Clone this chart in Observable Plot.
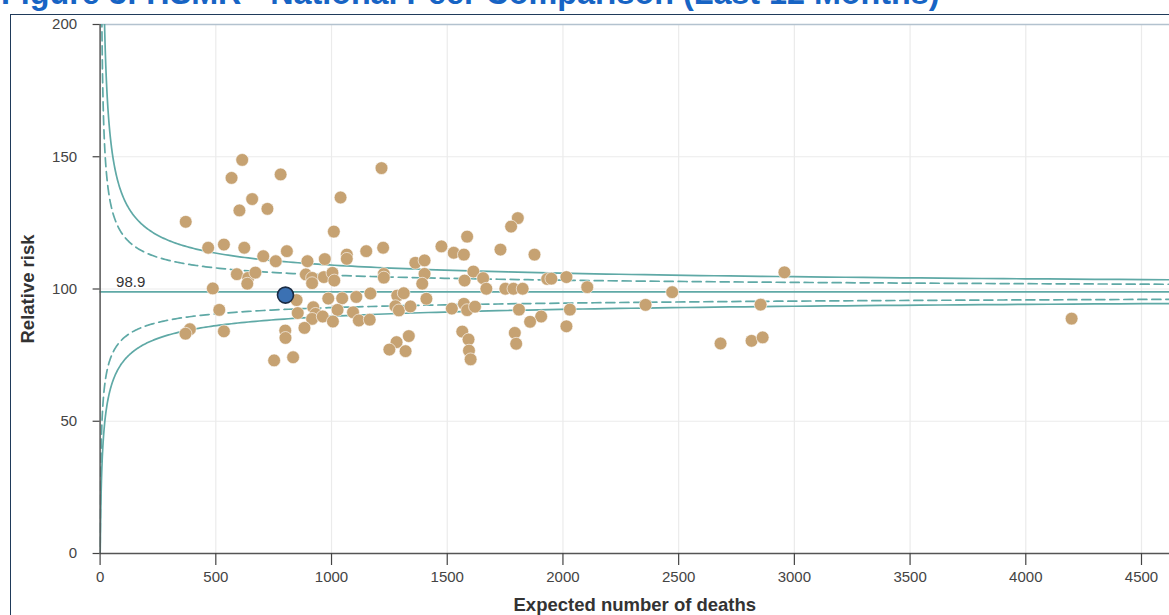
<!DOCTYPE html>
<html>
<head>
<meta charset="utf-8">
<script src="https://cdn.jsdelivr.net/npm/d3@7"></script>
<script src="https://cdn.jsdelivr.net/npm/@observablehq/plot@0.6"></script>
<style>
  html, body { margin: 0; padding: 0; background: #fff; }
  #wrap { position: relative; width: 1169px; height: 615px; overflow: hidden; font-family: "Liberation Sans", Arial, sans-serif; }
  #title { position: absolute; left: 1px; top: -23px; font-size: 32.3px; font-weight: bold; color: #1764c4; white-space: nowrap; line-height: 32px; }
  #frame { position: absolute; left: 10px; top: 14px; width: 1300px; height: 800px; border: 1.5px solid #1f3a5a; box-sizing: border-box; }
  #chart { position: absolute; left: 0; top: 0; }
</style>
</head>
<body>
<div id="wrap">
  <div id="title">Figure 3: HSMR - National Peer Comparison (Last 12 Months)</div>
  <div id="frame"></div>
  <div id="chart"></div>
</div>
<script>
// ---- data ----
const titleText = "Figure 3: HSMR - National Peer Comparison (Last 12 Months)";
const xLabel = "Expected number of deaths";
const yLabel = "Relative risk";
const xTicks = [0, 500, 1000, 1500, 2000, 2500, 3000, 3500, 4000, 4500];
const yTicks = [0, 50, 100, 150, 200];
const centerValue = 98.9;
const zOuter = 3.09;   // solid control limits
const zInner = 1.96;   // dashed warning limits

// peer hospitals: expected deaths
const peerExpected = [
  614, 568, 780, 657, 602, 723, 1039, 1216, 370, 1010, 1805, 1776, 1586,
  467, 535, 623, 705, 759, 807, 896, 971, 1066, 1066, 1150, 1223, 1475, 1528, 1572, 1730, 1877, 1362, 1402,
  591, 640, 671, 636, 889, 916, 916, 967, 1004, 1012, 1226, 1226, 1402, 1392, 1613, 1575, 1655, 1669, 1751, 1786, 1826, 1932, 1950, 2015, 2105, 2472, 2957, 487,
  849, 986, 1046, 1107, 1168, 1284, 1312, 1410, 515, 854, 921, 931, 916, 962, 1026, 1006, 1093, 1118, 1165, 1276, 1291, 1341, 1520, 1572, 1586, 1620, 1810, 1906, 1858, 2030, 2015, 2357, 2854,
  388, 369, 535, 800, 801, 883, 752, 834, 1334, 1281, 1250, 1320, 1565, 1592, 1594, 1601, 1792, 1798, 2681, 2815, 2863, 4198
];
// peer hospitals: relative risk
const peerRisk = [
  148.8, 142.0, 143.3, 134.0, 129.7, 130.3, 134.6, 145.7, 125.4, 121.7, 126.8, 123.6, 119.8,
  115.6, 116.8, 115.6, 112.4, 110.5, 114.3, 110.5, 111.3, 113.0, 111.4, 114.3, 115.6, 116.1, 113.7, 113.0, 114.9, 113.0, 109.9, 110.8,
  105.6, 104.2, 106.2, 102.0, 105.5, 104.2, 102.2, 104.5, 106.1, 103.2, 105.7, 104.3, 105.7, 102.0, 106.6, 103.2, 104.1, 100.1, 100.1, 100.1, 100.1, 103.8, 103.9, 104.5, 100.7, 98.8, 106.3, 100.2,
  95.8, 96.4, 96.5, 97.0, 98.3, 97.5, 98.4, 96.3, 92.1, 90.9, 93.1, 90.6, 88.7, 89.6, 92.1, 87.7, 91.2, 88.1, 88.4, 93.5, 91.9, 93.4, 92.6, 94.4, 92.0, 93.3, 92.2, 89.6, 87.6, 92.2, 85.9, 94.0, 94.1,
  84.8, 83.1, 84.0, 84.3, 81.5, 85.3, 73.0, 74.2, 82.2, 79.9, 77.1, 76.5, 83.9, 80.9, 76.7, 73.4, 83.4, 79.3, 79.4, 80.4, 81.7, 88.8
];
// this hospital
const hospitalExpected = 801;
const hospitalRisk = 97.7;

// ---- build tables ----
const peers = peerExpected.map((e, i) => ({e, rr: peerRisk[i]}));
const hospital = [{e: hospitalExpected, rr: hospitalRisk}];

const xMax = 4621;
const grid = d3.range(0, 1.00001, 0.0025).map(t => 0.3 * Math.pow(xMax / 0.3, t));
function limit(z, sign) {
  return grid.map(e => ({e, v: centerValue * Math.exp(sign * z / Math.sqrt(e))}));
}

const teal = "#5fa9a6";
const font = "Liberation Sans, Arial, sans-serif";

const chart = Plot.plot({
  width: 1169,
  height: 615,
  marginTop: 24,
  marginBottom: 62,
  marginLeft: 99.6,
  marginRight: 0,
  style: {fontFamily: font, background: "transparent", overflow: "visible"},
  x: {domain: [0, xMax]},
  y: {domain: [0, 200]},
  marks: [
    Plot.ruleX(xTicks.filter(d => d > 0), {stroke: "#ebebeb", strokeWidth: 1.2}),
    Plot.ruleY(yTicks.filter(d => d > 0 && d < 200), {stroke: "#ebebeb", strokeWidth: 1.2}),
    Plot.ruleY([200], {stroke: "#b3c2cf", strokeWidth: 1.5}),
    Plot.line(limit(zOuter, 1), {x: "e", y: "v", stroke: teal, strokeWidth: 1.7, clip: true}),
    Plot.line(limit(zOuter, -1), {x: "e", y: "v", stroke: teal, strokeWidth: 1.7, clip: true}),
    Plot.line(limit(zInner, 1), {x: "e", y: "v", stroke: teal, strokeWidth: 1.7, strokeDasharray: "9,5", clip: true}),
    Plot.line(limit(zInner, -1), {x: "e", y: "v", stroke: teal, strokeWidth: 1.7, strokeDasharray: "9,5", clip: true}),
    Plot.ruleY([centerValue], {stroke: teal, strokeWidth: 1.7}),
    Plot.text([centerValue], {y: d => d, text: d => d.toFixed(1), frameAnchor: "left", dx: 16, dy: -10, textAnchor: "start", fontSize: 15, fill: "#333"}),
    Plot.dot(peers, {x: "e", y: "rr", r: 6.4, fill: "#c6a272", stroke: "#fff", strokeWidth: 0.6}),
    Plot.dot(hospital, {x: "e", y: "rr", r: 8, fill: "#3b71b3", stroke: "#1b2c44", strokeWidth: 1.6}),
    Plot.ruleX([0], {y1: 0, y2: 200, stroke: "#555", strokeWidth: 1.5}),
    Plot.ruleY([0], {stroke: "#555", strokeWidth: 1.5}),
    Plot.axisX(xTicks, {tickSize: 12, tickPadding: 6, tickFormat: d => String(d), fontSize: 15, fill: "#444", stroke: "#444", strokeWidth: 1.2, label: null}),
    Plot.axisY(yTicks, {tickSize: 7, tickPadding: 16, tickFormat: d => String(d), fontSize: 15, fill: "#444", stroke: "#444", strokeWidth: 1.2, label: null}),
    Plot.text([xLabel], {frameAnchor: "bottom", dy: 57, text: d => d, fontWeight: "bold", fontSize: 18.5, fill: "#333"}),
    Plot.text([yLabel], {frameAnchor: "left", dx: -72, rotate: -90, textAnchor: "middle", text: d => d, fontWeight: "bold", fontSize: 18.5, fill: "#333"})
  ]
});
document.getElementById("chart").appendChild(chart);
</script>
</body>
</html>
